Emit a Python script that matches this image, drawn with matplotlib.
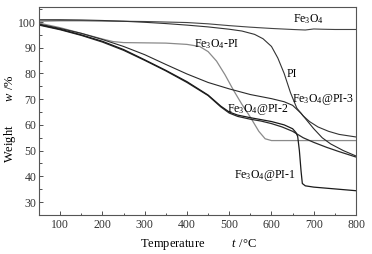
import matplotlib
matplotlib.use("Agg")
import matplotlib.pyplot as plt
from matplotlib.ticker import MultipleLocator

plt.rcParams['font.family'] = ['Liberation Serif', 'DejaVu Serif']
plt.rcParams['mathtext.fontset'] = 'custom'
plt.rcParams['mathtext.rm'] = 'Liberation Serif'
plt.rcParams['mathtext.it'] = 'Liberation Serif:italic'

# ---- data ----
fe3o4_T = [50, 100, 150, 200, 250, 300, 350, 400, 450, 500, 550, 600, 650, 680, 700, 720, 750, 800]
fe3o4_W = [100.4, 100.5, 100.5, 100.4, 100.3, 100.2, 100.0, 99.8, 99.3, 98.6, 98.0, 97.5, 97.1, 96.9, 97.3, 97.2, 97.1, 97.1]

pi_T = [50, 100, 150, 200, 250, 300, 350, 400, 450, 500, 530, 560, 580, 600, 615, 630, 645, 660, 675, 690, 710, 735, 760, 800]
pi_W = [100.9, 100.9, 100.8, 100.6, 100.3, 99.9, 99.4, 98.8, 98.1, 97.2, 96.5, 95.2, 93.5, 90.5, 86.0, 80.0, 72.5, 66.5, 63.5, 61.3, 59.2, 57.5, 56.3, 55.3]

fepi_T = [50, 100, 150, 200, 225, 250, 300, 350, 400, 430, 450, 470, 490, 510, 530, 550, 570, 585, 600, 650, 700, 750, 800]
fepi_W = [99.6, 97.8, 95.6, 93.4, 92.4, 92.0, 91.9, 91.8, 91.3, 90.5, 88.5, 84.8, 79.5, 73.5, 68.0, 63.0, 57.5, 54.6, 53.9, 53.9, 53.9, 53.9, 53.9]

pi3_T = [50, 100, 150, 200, 250, 300, 350, 400, 450, 500, 550, 600, 630, 650, 670, 690, 700, 720, 740, 770, 800]
pi3_W = [99.2, 97.5, 95.6, 93.2, 90.5, 87.3, 83.5, 79.8, 76.5, 74.0, 71.8, 70.2, 69.0, 67.6, 64.5, 60.5, 58.5, 55.0, 52.6, 50.0, 47.9]

pi1_T = [50, 100, 150, 200, 250, 300, 350, 400, 450, 480, 500, 520, 550, 600, 630, 650, 658, 662, 666, 670, 673, 680, 700, 750, 800]
pi1_W = [99.0, 97.2, 95.0, 92.5, 89.3, 85.3, 81.2, 76.8, 71.6, 67.3, 65.0, 63.8, 62.8, 61.3, 60.0, 58.5, 57.0, 55.5, 50.0, 42.0, 37.2, 36.3, 35.8, 35.1, 34.4]

pi2_T = [50, 100, 150, 200, 250, 300, 350, 400, 450, 480, 500, 520, 550, 575, 600, 625, 650, 675, 700, 730, 760, 800]
pi2_W = [98.8, 97.0, 94.8, 92.2, 89.0, 85.1, 81.0, 76.5, 71.4, 67.0, 64.6, 63.3, 62.2, 61.5, 60.5, 59.2, 57.5, 55.0, 53.2, 51.3, 49.6, 47.5]

x_ticks = [100, 200, 300, 400, 500, 600, 700, 800]
y_ticks = [30, 40, 50, 60, 70, 80, 90, 100]

fig = plt.figure(figsize=(3.72, 2.54), dpi=100)
ax = fig.add_axes([0.105, 0.154, 0.852, 0.818])

dark = '#2a2a2a'
ax.plot(fe3o4_T, fe3o4_W, color='#444444', lw=0.8)
ax.plot(pi_T, pi_W, color='#333333', lw=0.8)
ax.plot(fepi_T, fepi_W, color='#8a8a8a', lw=0.9)
ax.plot(pi3_T, pi3_W, color=dark, lw=0.8)
ax.plot(pi2_T, pi2_W, color=dark, lw=0.9)
ax.plot(pi1_T, pi1_W, color='#1a1a1a', lw=0.9)

fs = 8.5
ax.text(650, 101.2, r'Fe$_3$O$_4$', fontsize=fs, ha='left', va='center')
ax.text(416, 91.4, r'Fe$_3$O$_4$-PI', fontsize=fs, ha='left', va='center')
ax.text(636, 79.6, 'PI', fontsize=fs, ha='left', va='center')
ax.text(648, 69.7, r'Fe$_3$O$_4$@PI-3', fontsize=fs, ha='left', va='center')
ax.text(495, 65.8, r'Fe$_3$O$_4$@PI-2', fontsize=fs, ha='left', va='center')
ax.text(512, 40.5, r'Fe$_3$O$_4$@PI-1', fontsize=fs, ha='left', va='center')

ax.set_xlim(50, 800)
ax.set_ylim(25, 105.8)
ax.set_xticks(x_ticks)
ax.set_yticks(y_ticks)
ax.xaxis.set_minor_locator(MultipleLocator(50))
ax.yaxis.set_minor_locator(MultipleLocator(5))
ax.tick_params(which='both', direction='in', labelsize=fs, colors='#333333', width=0.6)
ax.tick_params(which='major', length=3)
ax.tick_params(which='minor', length=1.8)
ax.tick_params(axis='x', pad=3)
ax.tick_params(axis='y', pad=2)
for s in ax.spines.values():
    s.set_color('#555555')
    s.set_linewidth(0.8)

lfs = 9
fig.text(198.5 / 372, 1 - 244 / 254, r'Temperature         $t$ /°C', fontsize=lfs,
         ha='center', va='center')
fig.text(10 / 372, 1 - 118.5 / 254, r'Weight        $w$ /%', fontsize=lfs,
         ha='center', va='center', rotation=90)

fig.savefig('out.png', dpi=100)
